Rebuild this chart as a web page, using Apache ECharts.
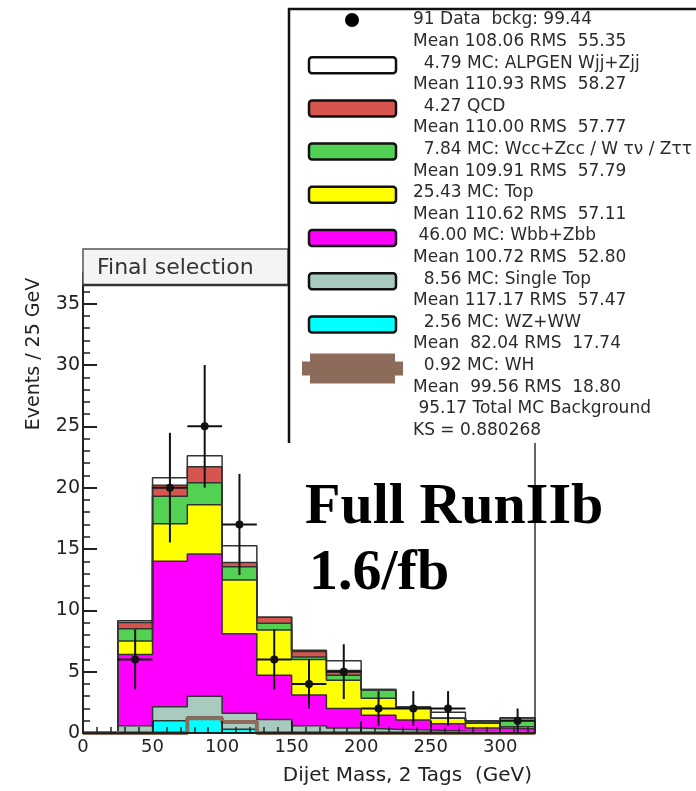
<!DOCTYPE html>
<html>
<head>
<meta charset="utf-8">
<script src="https://cdn.jsdelivr.net/npm/echarts@6.0.0/dist/echarts.min.js"></script>
<style>
html, body { margin: 0; padding: 0; background: #fff; }
#chart { width: 696px; height: 791px; }
</style>
</head>
<body>
<div id="chart"></div>
<script>
// bin edges of the dijet mass histogram (GeV)
const binEdges = [25, 50, 75, 100, 125, 150, 175, 200, 225, 250, 275, 300, 325];

// background components per bin, bottom of the stack first
const wzww      = [0, 1.0, 1.3, 0.3, 0, 0, 0, 0, 0, 0, 0, 0];
const singleTop = [0.6, 1.15, 1.7, 1.3, 1.1, 0.6, 0.4, 0.3, 0.25, 0.15, 0.1, 0.1];
const wbbZbb    = [5.8, 11.85, 11.6, 6.5, 3.6, 2.5, 1.6, 1.15, 0.8, 0.6, 0.3, 0.25];
const topPair   = [1.1, 3.05, 4.0, 4.37, 3.7, 2.9, 2.3, 1.38, 1.04, 0.45, 0.4, 0.15];
const wccZcc    = [1.0, 2.25, 1.8, 1.08, 0.54, 0.2, 0.4, 0.67, 0, 0, 0.1, 0.75];
const qcd       = [0.5, 0.9, 1.3, 0.35, 0.5, 0.45, 0.4, 0.05, 0, 0, 0.1, 0];
const wjjZjj    = [0.15, 0.6, 0.9, 1.37, 0, 0.1, 0.8, 0, 0, 0.5, 0, 0];

// WH signal, drawn as a thick line (not stacked)
const wh = [0, 0, 1.2, 0.9, 0, 0, 0, 0, 0, 0, 0, 0];

// observed events per bin
const dataCounts = [6, 20, 25, 17, 6, 4, 5, 2, 2, 2, 0, 1];

const xTicks = [0, 50, 100, 150, 200, 250, 300];
const yTicks = [0, 5, 10, 15, 20, 25, 30, 35];

const legendLines = [
    '91 Data  bckg: 99.44',
    'Mean 108.06 RMS  55.35',
    '  4.79 MC: ALPGEN Wjj+Zjj',
    'Mean 110.93 RMS  58.27',
    '  4.27 QCD',
    'Mean 110.00 RMS  57.77',
    '  7.84 MC: Wcc+Zcc / W τν / Zττ',
    'Mean 109.91 RMS  57.79',
    '25.43 MC: Top',
    'Mean 110.62 RMS  57.11',
    ' 46.00 MC: Wbb+Zbb',
    'Mean 100.72 RMS  52.80',
    '  8.56 MC: Single Top',
    'Mean 117.17 RMS  57.47',
    '  2.56 MC: WZ+WW',
    'Mean  82.04 RMS  17.74',
    '  0.92 MC: WH',
    'Mean  99.56 RMS  18.80',
    ' 95.17 Total MC Background',
    'KS = 0.880268'
];

const components = [
    {data: wzww, color: '#00ffff'},
    {data: singleTop, color: '#a9cbbf'},
    {data: wbbZbb, color: '#ff00ff'},
    {data: topPair, color: '#ffff00'},
    {data: wccZcc, color: '#52d152'},
    {data: qcd, color: '#d6564f'},
    {data: wjjZjj, color: '#ffffff'}
];

// cumulative stacks
let running = binEdges.slice(1).map(() => 0);
const stacks = components.map(c => {
    running = running.map((v, i) => v + c.data[i]);
    return {color: c.color, cum: running.slice()};
});

function stepPoints(values, start) {
    const pts = [[start, 0]];
    if (start < binEdges[0]) pts.push([binEdges[0], 0]);
    values.forEach((v, i) => pts.push([binEdges[i + 1], v]));
    pts.push([binEdges[binEdges.length - 1], 0]);
    return pts;
}

const series = [];
stacks.slice().reverse().forEach(s => {
    series.push({
        type: 'line',
        step: 'start',
        symbol: 'none',
        silent: true,
        z: 2,
        data: stepPoints(s.cum, binEdges[0]),
        lineStyle: {color: '#333', width: 1.5},
        areaStyle: {color: s.color, opacity: 1},
        animation: false
    });
});

series.push({
    type: 'line',
    step: 'start',
    symbol: 'none',
    silent: true,
    z: 3,
    data: stepPoints(wh, 0),
    lineStyle: {color: '#8d6b5b', width: 4},
    animation: false
});

const halfBin = (binEdges[1] - binEdges[0]) / 2;
series.push({
    type: 'custom',
    animation: false,
    z: 6,
    data: dataCounts.map((n, i) => [(binEdges[i] + binEdges[i + 1]) / 2, n]),
    renderItem: function (params, api) {
        const x = api.value(0), n = api.value(1);
        if (!n) return null;
        const e = Math.sqrt(n);
        const c = api.coord([x, n]);
        const lo = api.coord([x, n - e]);
        const hi = api.coord([x, n + e]);
        const l = api.coord([x - halfBin, n]);
        const r = api.coord([x + halfBin, n]);
        return {
            type: 'group',
            children: [
                {type: 'line', shape: {x1: lo[0], y1: lo[1], x2: hi[0], y2: hi[1]}, style: {stroke: '#111', lineWidth: 2}},
                {type: 'line', shape: {x1: l[0], y1: l[1], x2: r[0], y2: r[1]}, style: {stroke: '#111', lineWidth: 2}},
                {type: 'circle', shape: {cx: c[0], cy: c[1], r: 4}, style: {fill: '#111'}}
            ]
        };
    }
});

// legend / labels drawn as graphics
const rowY = i => 20 + 21.6 * i;
const graphics = [
    {type: 'rect', z: 100, shape: {x: 289, y: 9, width: 420, height: 434}, style: {fill: '#fff'}},
    {type: 'polyline', z: 101, shape: {points: [[700, 9], [289, 9], [289, 443]]}, style: {stroke: '#111', lineWidth: 2.5, fill: null}},
    {type: 'circle', z: 101, shape: {cx: 352, cy: rowY(0), r: 7}, style: {fill: '#000'}}
];
components.slice().reverse().forEach((c, k) => {
    graphics.push({
        type: 'rect', z: 101,
        shape: {x: 309, y: rowY(2 + 2 * k) + 2 - 8, width: 87, height: 16, r: 3},
        style: {fill: c.color, stroke: '#111', lineWidth: 2.5}
    });
});
graphics.push({type: 'rect', z: 101, shape: {x: 310, y: rowY(16) + 3 - 15, width: 85, height: 30}, style: {fill: '#8d6b5b'}});
graphics.push({type: 'rect', z: 101, shape: {x: 302, y: rowY(16) + 3 - 7, width: 101, height: 14}, style: {fill: '#8d6b5b'}});
legendLines.forEach((t, i) => {
    graphics.push({
        type: 'text', z: 102, x: 413, y: rowY(i),
        style: {text: t, font: '17px "DejaVu Sans"', fill: '#2b2b2b', verticalAlign: 'middle', align: 'left'}
    });
});
// title box
graphics.push({type: 'rect', z: 100, shape: {x: 83, y: 249, width: 205, height: 36}, style: {fill: '#f4f4f4', stroke: '#555', lineWidth: 1.5}});
graphics.push({type: 'line', z: 101, shape: {x1: 83, y1: 285, x2: 288, y2: 285}, style: {stroke: '#333', lineWidth: 2.5}});
graphics.push({type: 'text', z: 102, x: 97, y: 268, style: {text: 'Final selection', font: '22px "DejaVu Sans"', fill: '#333', verticalAlign: 'middle'}});
// axis titles
graphics.push({type: 'text', z: 102, x: 34, y: 354, rotation: Math.PI / 2,
    style: {text: 'Events / 25 GeV', font: '19px "DejaVu Sans"', fill: '#222', align: 'center', verticalAlign: 'middle'}});
graphics.push({type: 'text', z: 102, x: 532, y: 776,
    style: {text: 'Dijet Mass, 2 Tags  (GeV)', font: '20px "DejaVu Sans"', fill: '#222', align: 'right', verticalAlign: 'middle'}});
// luminosity label
graphics.push({type: 'text', z: 102, x: 305, y: 508,
    style: {text: 'Full RunIIb', font: 'bold 58px "Liberation Serif"', fill: '#000', verticalAlign: 'middle'}});
graphics.push({type: 'text', z: 102, x: 309, y: 574,
    style: {text: '1.6/fb', font: 'bold 58px "Liberation Serif"', fill: '#000', verticalAlign: 'middle'}});

const chart = echarts.init(document.getElementById('chart'));
chart.setOption({
    animation: false,
    backgroundColor: '#fff',
    grid: {left: 83, right: 161, top: 273, bottom: 58, show: true, borderColor: '#333', borderWidth: 1.5},
    xAxis: {
        type: 'value', min: 0, max: 325, interval: 50, z: 4,
        axisLine: {onZero: false, lineStyle: {color: '#222', width: 2}},
        axisTick: {inside: true, length: 12, lineStyle: {color: '#222', width: 2}},
        minorTick: {show: true, splitNumber: 5, length: 6, lineStyle: {color: '#222', width: 1.5}},
        splitLine: {show: false},
        axisLabel: {
            fontFamily: 'DejaVu Sans', fontSize: 18, color: '#222', margin: 5,
            formatter: v => xTicks.indexOf(v) >= 0 ? String(v) : ''
        }
    },
    yAxis: {
        type: 'value', min: 0, max: 37.5, interval: 5, z: 4,
        axisLine: {onZero: false, lineStyle: {color: '#222', width: 2}},
        axisTick: {inside: true, length: 14, lineStyle: {color: '#222', width: 2}},
        minorTick: {show: true, splitNumber: 5, length: 7, lineStyle: {color: '#222', width: 1.5}},
        splitLine: {show: false},
        axisLabel: {
            fontFamily: 'DejaVu Sans', fontSize: 19, color: '#222', margin: 3,
            formatter: v => yTicks.indexOf(v) >= 0 ? String(v) : ''
        }
    },
    series: series,
    graphic: graphics
});
</script>
</body>
</html>
